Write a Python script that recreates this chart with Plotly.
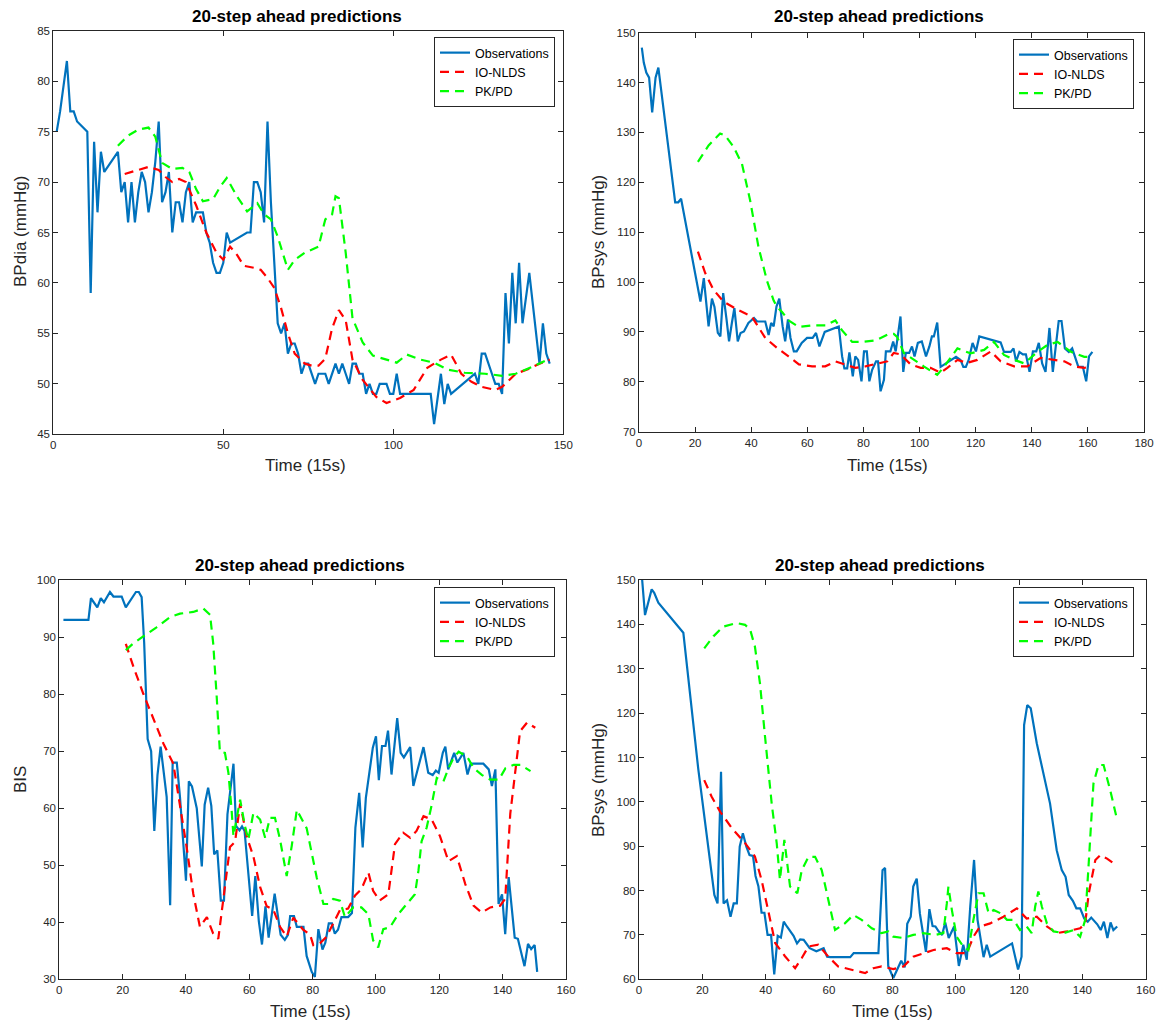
import plotly.graph_objects as go

# ---------------- Data: top-left (BPdia) ----------------
tl_obs_x = [1,2,4,5,6,7,10,11,12,13,14,15,19,20,21,22,23,24,25,26,27,28,29,30,31,32,33,34,35,36,37,38,39,40,41,42,44,45,46,47,48,49,50,51,52,57,58,59,60,61,62,63,64,65,66,67,68,69,70,71,72,73,74,75,77,78,80,81,83,84,85,86,87,88,89,90,91,92,93,94,95,96,98,99,100,101,102,111,112,114,115,116,117,124,125,126,127,129,130,131,132,133,134,135,136,137,138,140,142,143,144,145,146]
tl_obs_y = [75,77,82,77,77,76,75,59,74,67,73,71,73,69,70,66,70,66,69,71,70,67,69,72,76,68,69,71,65,68,68,66,69,70,66,67,67,65,64,62,61,61,62,65,64,65,65,70,70,69,66,76,68,62,56,55,56,53,54,54,53,51,52,52,50,51,51,50,52,51,52,51,50,52,52,51,51,49,50,49,49,50,50,49,49,51,49,49,46,51,48,50,49,51,50,53,53,51,50,50,49,59,54,61,56,62,56,61,55,52,56,53,52]
tl_io_x = [21,25,28,31,33,35,37,39,42,45,48,50,52,54,56,59,61,63,65,67,69,71,74,76,78,80,82,84,86,88,91,95,98,102,106,110,114,117,120,123,126,130,132,136,140,143,146]
tl_io_y = [70.8,71.2,71.5,71.2,70.5,70,70.3,70,67.7,65,63,62.3,63.6,62.8,61.7,61.5,61.3,60.5,59.5,57.5,55,53,52,51.8,51.8,52.5,55.5,57.3,56.3,52.4,50.4,48.7,48.1,48.6,49.4,51.6,52.4,52.9,51,50.2,49.7,49.4,49.7,51,51.5,52,52.4]
tl_pk_x = [19,22,25,28,30,32,35,38,40,42,44,47,49,51,54,57,60,62,64,66,69,71,74,78,80,82,83,84,86,88,91,94,98,101,104,108,112,116,121,127,132,136,141,145,146]
tl_pk_y = [73.6,74.6,75.2,75.4,74.5,71.9,71.3,71.4,71,69.3,68.1,68.3,69.5,70.4,68.6,67.1,67.9,66.8,66.3,64.6,61.3,62.3,63,63.6,66.3,66.8,68.6,68.4,63,56.5,54.1,52.8,52.4,52.1,52.9,52.4,52.1,51.4,51.1,51,50.8,51,51.7,52.4,52.5]

# ---------------- Data: top-right (BPsys) ----------------
tr_obs_x = [1,1.7,2.6,3.6,4.7,5.9,6.9,12.9,14,15,21.9,23.1,24.8,26,26.9,28.1,29,30,31.2,32.1,33.1,34,35.2,36.2,37.4,39,41,42.1,45,46.2,47.1,48,49,50,51.2,52.1,53.1,54,55.2,56.2,58,59.9,61.9,63.1,64.3,66.2,71.2,72.4,73.2,74.2,75,76.2,77.1,78.1,79.3,80.2,81.2,82.1,83.1,84.5,85.2,86.1,87.3,88,89.6,90.6,91.5,92.3,93.2,94.2,95.1,96.3,97.3,98.2,99.4,100.8,102.3,103.5,104.4,105.1,106.3,107.5,113,114.6,115.6,116.5,117.5,118.9,120.1,121.3,128.9,130.1,132.5,133.5,134.4,135.6,136.8,137.9,139.2,140.4,141.6,142.5,143.7,144.9,146.3,147.5,148.7,149.6,150.6,151.8,153.2,154.4,156.6,158.2,159.4,160.4,161.6]
tr_obs_y = [147,144,142,141,134,141,143,116,116,116.7,96.1,100.8,91.1,96.7,95,89.8,89.1,97.8,92.5,88.1,91.8,94.8,88.1,89.8,90.1,91.8,92.8,92.1,92.1,89.4,91.8,91.1,95.1,96.7,91.1,88.1,92.5,88.8,86.1,86.1,87.8,88.8,88.8,89.8,87.1,90,91.1,85.1,82.7,82.7,85.9,81.1,85.1,84.4,80.1,86.1,86.1,80.1,82.4,84.1,84.1,78.1,80.4,86.1,86.1,88.1,86.1,89.8,93.1,82,85.8,85.8,87.1,85.1,87.8,88.1,85.1,87.1,89.1,89.1,91.9,83,85,84.4,83,83,84.4,87.8,86.1,89.1,87.9,86,86,86.7,84.1,86,85.5,85.5,82,86.1,86.1,87.8,83.7,82,90.8,82,88.1,92.2,92.2,86.7,86,86.7,83,83,80.1,85.1,86]
tr_io_x = [21,23.6,26.5,30.1,35,40.2,45,49.2,53.3,57,61.7,66.4,70,73.6,77.1,80.7,85.5,88.5,90.8,93.2,96.8,100.4,103.9,107.5,109.9,113.5,117,120.6,125.4,128.9,133.7,138.4,143.2,148,151.6,155.1,158.7,161.3]
tr_io_y = [106.1,101.8,98.5,96.1,94.5,93.1,88.8,86.8,85.1,83.5,83.1,83.1,84.1,83.5,82.8,83.1,83.8,84.1,85.8,85.5,83.5,82.8,82.8,81.8,82.8,84.4,83.8,84.4,86.1,84.1,83.1,83.1,84.8,84.4,84.1,83.1,82.8,83.1]
tr_pk_x = [21,24.8,28.9,30.7,33.7,36.7,39.6,42.6,45.6,48,49.2,51,53.3,57,61.7,66.4,70,72.4,76,79.5,84.3,89,90.8,92,94.4,98,101.5,106.3,108.7,113.5,118.2,123,126.5,130.1,133.7,137.3,142,145.6,149.2,154,158.7,161]
tr_pk_y = [124.1,127.4,129.8,129.4,127.1,123.7,116.4,107,100.3,96.3,95,94,92.3,91,91.3,91.3,92.3,90.3,88,88,88.3,89.6,89.6,89,85.8,84.4,83.1,81.4,83,86.7,85.7,86.4,88,85.4,84.4,83.7,86,87.4,88,86,85,85]

# ---------------- Data: bottom-left (BIS) ----------------
bl_obs_x = [1.3,9.2,10,12,13.1,14.1,16,17.1,19.7,21,24.2,25.1,26,26.8,27.9,29,30,31,32,33.9,35,35.8,37.1,38.1,40,40.9,41.9,43.4,45,45.9,47,48,48.9,49.9,51,52,53.1,54.1,55,55.8,56.9,57.7,58.5,60.9,61.9,63,64,65.1,66.1,68,69.1,69.9,71.2,72.2,72.9,74.1,75,77.1,78.1,79.7,80.7,81.8,83.1,84,85.1,86.1,87,88,89.1,91.2,92.4,93.5,94.7,95.8,96.8,97.9,99,100,100.9,101.9,103,103.8,104.9,106.7,107.8,108.8,110.8,111.8,115,116.5,117.9,118.9,119.8,121.1,121.9,122.8,124.7,125.7,127.6,128.9,129.9,133.9,135.6,136.6,137.7,138.7,139.8,140.8,141.9,143.8,144.8,146.9,148,149,150.1,150.9]
bl_obs_y = [93,93,96.8,95.2,96.8,96.1,97.9,97.1,97.1,95.2,97.9,97.9,97,89,72.1,70,56,65.8,70.8,62,43,68,68,62,47.3,64.7,63.8,60,49.8,60.6,63.6,60.4,51.9,52.6,43.8,43.8,58.9,63.7,67.8,56.9,56.1,56.8,56,41.1,48.1,40.2,36.1,42.8,37.3,45,41.1,37.8,36.9,37.8,41.1,41.1,39.2,39.2,34.1,31.3,30.4,38.8,35.2,36.4,39.8,39.8,38,38.7,40.9,40.9,41.6,56.6,62.7,53.1,61.8,66.5,70.6,72.6,64.9,70.9,70.9,73.6,65.9,75.8,69.7,68.9,70.7,63.9,70.7,66.2,65.8,66.6,66.2,69.7,70.8,66.8,69.7,68,69.7,65.9,67.8,67.8,66.8,63.9,66.8,43.2,44.9,37.9,47.9,37.3,37.1,32.3,36.2,35.3,36,31.3]
bl_io_x = [21,23.4,26.5,29.7,32.9,36,38.1,40.2,42.3,44.4,46.6,48.6,50.2,51.8,53.9,55.5,57.1,59.2,61.3,63.4,65.5,67.6,69.7,71.8,73.9,77,79.2,80.2,82.3,84.3,86.5,88.6,91.2,93.4,95.4,97.6,99.1,101.2,103.9,106,108.6,110.8,112.8,115,117.6,120.2,122.9,125.5,128.2,130.8,133.4,136.1,139.2,140.8,142.4,144,145.5,147.7,150.3]
bl_io_y = [88.8,84.8,80.1,75.7,71.3,67.8,60.8,53.2,45,39.2,40.9,38,37.1,44.4,53.2,54.1,60.8,55,51.5,46.2,42.8,42.2,39.2,37.5,40.8,38.7,37.8,36,36.3,37.4,39.7,42.1,42.4,44.7,45.8,48.7,45.5,43.8,44.9,53.7,55.7,54.8,56,58.6,58,55.1,50.7,51.6,46.7,42.9,41.7,42.6,42.9,44.1,59,66.5,73.5,75,74.1]
bl_pk_x = [21,23.4,26.5,30.7,35,38.1,42.3,45.5,47.6,48.6,49.7,50.7,52.3,53.4,54.4,55,57.1,58.6,59.7,61.3,63.4,65,66.5,68.1,69.7,71.8,73.4,75,78.1,79.7,81.3,83.4,84.9,86.5,88.6,90.2,92.8,95.4,97.6,99.1,100.7,102.3,104.4,107,109.7,112.3,113.4,114.4,116,117.6,119.2,121.3,122.9,124.5,126.1,128.8,130.9,133.5,136.1,138.8,140.9,143.5,145.6,148.8]
bl_pk_y = [87.7,88.9,90.1,91.7,93.5,94.1,94.4,95,93.9,88.9,79.6,69.9,69.7,66.2,59.7,55.1,61.5,56.9,54.5,59.2,58,54.8,58.3,58.3,54.5,48.1,53.4,59.7,56.5,51.8,47.8,43.2,43.2,44.1,43.8,40.9,42.6,42.6,41.4,36.8,35.6,38.8,39.1,41.4,43.2,44.9,49,54.2,56.6,60.6,65.3,64.7,67,68.8,69.9,69,67,65.8,65,65,67,67.6,67.6,66.5]

# ---------------- Data: bottom-right (BPsys) ----------------
br_obs_x = [1,1.9,4,4.8,6.1,14,18.7,23.8,24.8,25.9,26.7,27.8,28.9,29.9,30.9,31.8,32.8,33.9,34.9,36,36.8,37.7,38.7,39.6,40.6,41.7,42.7,43.8,44.8,45.7,46.7,47.8,48.8,49.9,50.9,52,53.9,56,57.3,58.3,59.4,60.4,66.7,67.8,75.6,76.9,77.7,78.7,80.3,81.3,82.8,83.9,84.7,85.8,86.6,87.7,88.7,90.6,91.7,92.7,93.6,94.6,95.7,96.7,97.8,99.5,101,102.4,103.5,104.6,105.8,106.9,108.8,109.8,110.9,117.8,119.7,120.8,121.6,122.6,123.7,125.6,129.8,131.9,133.5,134.7,135.7,137,138.1,139.3,140.6,141.7,142.8,144.7,145.8,146.8,147.9,148.9,149.8,151]
br_obs_y = [150,142.1,147.9,147.1,144.9,138.1,107.5,79,77.1,106.8,77.1,77.8,74.1,77.1,77.1,89.9,92.9,89.9,88,87.8,83.3,81,75,75,70,70,61.1,69.8,69.4,73,71.9,70.8,69.8,68.1,69,68.9,67,66.3,66.6,67,65.1,65,65,65.9,65.9,84.6,85.1,63,60.3,61.8,64.2,62.7,72.5,74.1,80.9,82.7,74.8,66.2,75.8,72,71.9,70.8,70,72.8,69.3,71.9,63,67.8,64.4,76.4,86.9,73.4,65,67.8,65.1,68.1,62.2,65.1,117.3,121.8,121.1,113.2,99.6,89.1,84.6,83.1,79,77.7,76,76,73.7,73,73.9,72.4,71.1,73,69.3,72.8,71.1,71.9]
br_io_x = [20.6,22.9,25.6,29.3,33.5,36.6,38.7,40.9,43,46.1,49.3,51.4,53.5,56.6,59.8,62.9,67.2,71.4,74,76.6,80.3,83.5,86.6,89.8,93,97.2,100.3,103.5,105.6,107.7,110.9,115.1,119.3,122.4,125.6,128.8,131.9,135.1,139.3,140.9,142,144.1,145.7,147.8,149.9]
br_io_y = [104.9,101.2,97.8,94.1,90.7,87.7,82.4,74.9,68.2,65.2,62.5,64.8,67.4,67.8,65.1,62.9,62.1,61.4,62.5,62.9,62.3,62.9,65.1,65.9,66.6,67,65.9,65.9,69.6,71.9,72.6,74.1,76,73.7,74.1,71.9,70.4,70.8,71.5,72.6,79.3,86.9,88,87.2,86.1]
br_pk_x = [20.6,23.5,26.6,30.9,33.5,35.1,36.6,38.2,39.8,41.9,43.5,44.5,45.9,47.7,50,51.4,53.5,55.6,57.7,59.8,61.9,65,67.7,70.3,73.5,76.6,78.7,80.3,83.5,86.6,89.8,93.5,96.1,97.2,97.7,98.8,100.3,102.4,104,105.6,107.2,108.8,110.4,112,114.1,116.2,118.3,120.3,122.4,124,125.1,126.1,127.2,128.8,130.9,134.1,137.2,139.3,140.9,142,143.5,145.1,146.7,148.8,150.9]
br_pk_y = [134.6,137.3,139.5,140.3,139.9,138.8,135,126.7,114.7,99.6,90.6,82.4,91.4,80.9,79.4,84.6,87.6,87.6,84.6,77.9,71.1,72.6,74.5,73.4,71.5,70.4,70.8,69.6,69.3,70,70.4,70,70.4,77.1,80.9,75.6,69.6,67.4,66.6,73.4,79.4,79.4,74.9,75.6,74.9,73.4,73.4,71.1,71.9,70.4,76.4,79.8,76.4,72.6,70.8,70.4,71.1,69.6,73.4,86.1,104.1,108.3,108.3,102.6,96.2]

# ---------------- Styling ----------------
FONT = "Liberation Sans, Arial, Helvetica, sans-serif"
AXC = "#262626"
BLUE = "#0072BD"
RED = "#FF0000"
GREEN = "#00FF00"
DASH = "9px,6px"

fig = go.Figure()

panels = [
    ("x", "y", "legend", tl_obs_x, tl_obs_y, tl_io_x, tl_io_y, tl_pk_x, tl_pk_y),
    ("x2", "y2", "legend2", tr_obs_x, tr_obs_y, tr_io_x, tr_io_y, tr_pk_x, tr_pk_y),
    ("x3", "y3", "legend3", bl_obs_x, bl_obs_y, bl_io_x, bl_io_y, bl_pk_x, bl_pk_y),
    ("x4", "y4", "legend4", br_obs_x, br_obs_y, br_io_x, br_io_y, br_pk_x, br_pk_y),
]
for xa, ya, lg, ox, oy, ix, iy, px, py in panels:
    fig.add_trace(go.Scatter(x=ox, y=oy, mode="lines", name="Observations",
                             line=dict(color=BLUE, width=2.2), xaxis=xa, yaxis=ya, legend=lg))
    fig.add_trace(go.Scatter(x=ix, y=iy, mode="lines", name="IO-NLDS",
                             line=dict(color=RED, width=2.2, dash=DASH), xaxis=xa, yaxis=ya, legend=lg))
    fig.add_trace(go.Scatter(x=px, y=py, mode="lines", name="PK/PD",
                             line=dict(color=GREEN, width=2.2, dash=DASH), xaxis=xa, yaxis=ya, legend=lg))

# the page's default body margin is removed (see post_script below), so the figure fills the window
W, H = 1167, 1022


def px2x(p):
    return p / W


def px2y(p):
    return 1 - p / H


def axis(domain, rng, dtick, anchor):
    return dict(domain=domain, range=rng, dtick=dtick, tick0=0, ticks="inside", ticklen=5,
                tickcolor=AXC, showline=True, linecolor=AXC, linewidth=1, mirror="ticks",
                showgrid=False, zeroline=False, anchor=anchor,
                tickfont=dict(family=FONT, size=11.5, color=AXC))


tl_xd = [px2x(53.3), px2x(563.3)]
tl_yd = [px2y(434.3), px2y(30.7)]
tr_xd = [px2x(639), px2x(1144)]
tr_yd = [px2y(431.7), px2y(32.7)]
bl_xd = [px2x(59.3), px2x(566)]
bl_yd = [px2y(979.3), px2y(580)]
br_xd = [px2x(639), px2x(1145.7)]
br_yd = [px2y(979.3), px2y(580)]


def legend(xr, yt):
    return dict(x=px2x(xr), y=px2y(yt), xanchor="right", yanchor="top", xref="paper", yref="paper",
                bgcolor="white", bordercolor=AXC, borderwidth=1,
                font=dict(family=FONT, size=12.5, color="#000000"), tracegroupgap=0, itemwidth=30)


layout = dict(
    width=W, height=H, margin=dict(l=0, r=0, t=0, b=0, autoexpand=False),
    paper_bgcolor="white", plot_bgcolor="white",
    xaxis=axis(tl_xd, [0, 150], 50, "y"), yaxis=axis(tl_yd, [45, 85], 5, "x"),
    xaxis2=axis(tr_xd, [0, 180], 20, "y2"), yaxis2=axis(tr_yd, [70, 150], 10, "x2"),
    xaxis3=axis(bl_xd, [0, 160], 20, "y3"), yaxis3=axis(bl_yd, [30, 100], 10, "x3"),
    xaxis4=axis(br_xd, [0, 160], 20, "y4"), yaxis4=axis(br_yd, [60, 150], 10, "x4"),
    legend=legend(555, 37), legend2=legend(1134, 39),
    legend3=legend(555, 587), legend4=legend(1134, 587),
    showlegend=True,
)
fig.update_layout(**layout)

annots = []
titles = [(297, 16), (879, 16), (300, 565), (880, 565)]
for cx, cy in titles:
    annots.append(dict(x=px2x(cx), y=px2y(cy), xref="paper", yref="paper", showarrow=False,
                       text="<b>20-step ahead predictions</b>", font=dict(family=FONT, size=17, color="#000000"),
                       xanchor="center", yanchor="middle"))
xlabels = [(305, 466), (887, 466), (310, 1011), (892, 1011)]
for cx, cy in xlabels:
    annots.append(dict(x=px2x(cx), y=px2y(cy), xref="paper", yref="paper", showarrow=False,
                       text="Time (15s)", font=dict(family=FONT, size=17, color=AXC),
                       xanchor="center", yanchor="middle"))
ylabels = [(20, 232, "BPdia (mmHg)"), (598, 232, "BPsys (mmHg)"), (20, 780, "BIS"), (598, 780, "BPsys (mmHg)")]
for cx, cy, t in ylabels:
    annots.append(dict(x=px2x(cx), y=px2y(cy), xref="paper", yref="paper", showarrow=False,
                       text=t, textangle=-90, font=dict(family=FONT, size=17, color=AXC),
                       xanchor="center", yanchor="middle"))
fig.update_layout(annotations=annots)

fig.write_html("out.html", config={"displayModeBar": False},
               post_script="document.body.style.margin='0';document.body.style.overflow='hidden';")
